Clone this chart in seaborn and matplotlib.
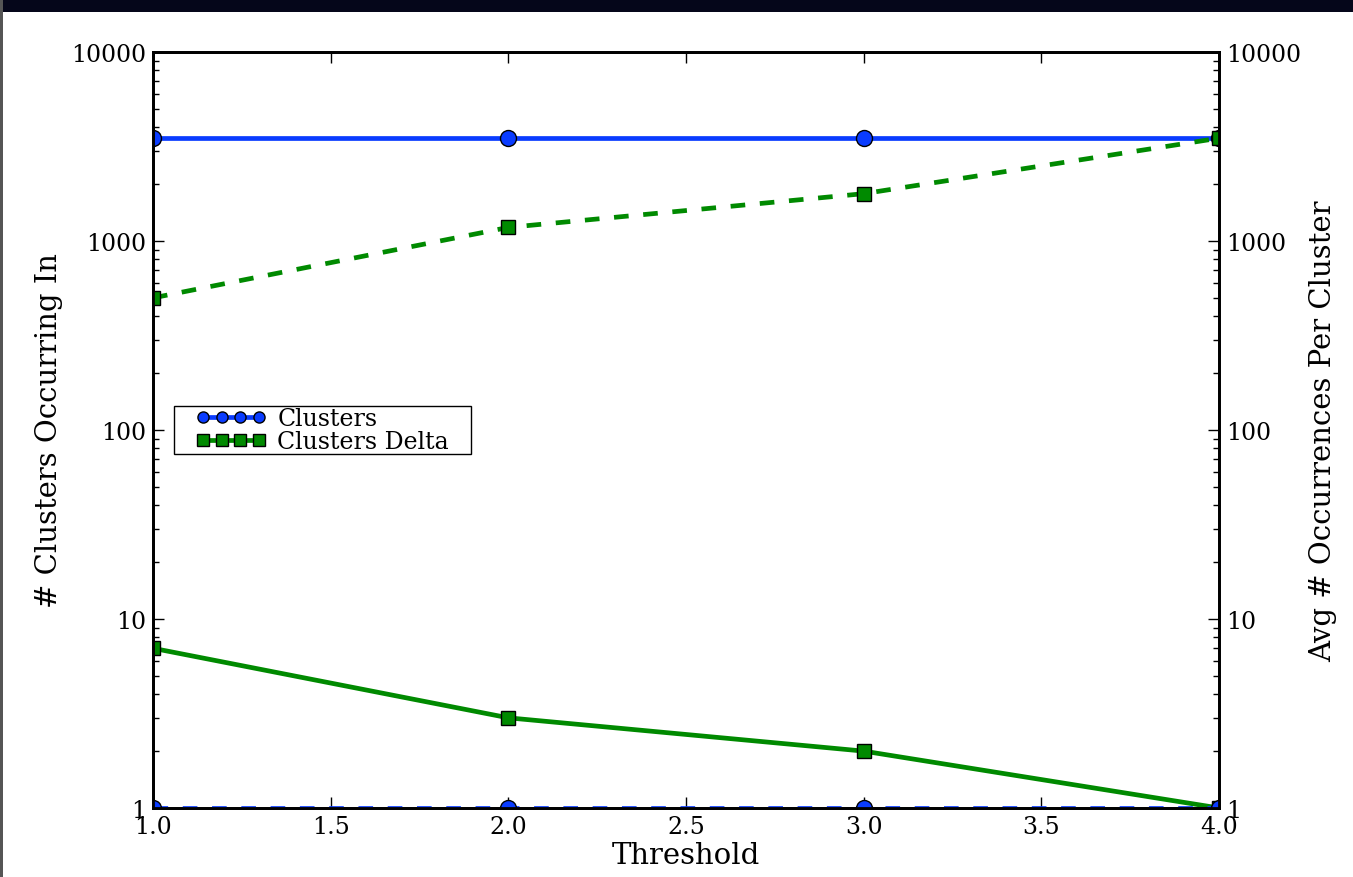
import matplotlib
matplotlib.use("Agg")
import matplotlib.pyplot as plt
from matplotlib.patches import Rectangle
from matplotlib.ticker import FixedLocator, FixedFormatter, LogLocator, NullFormatter
import seaborn as sns
import pandas as pd

# Data
thresholds = [1.0, 2.0, 3.0, 4.0]
clusters_count = [3500, 3500, 3500, 3500]
clusters_avg = [1, 1, 1, 1]
delta_count = [7, 3, 2, 1]
delta_avg = [500, 1180, 1780, 3500]

x_ticks = [1.0, 1.5, 2.0, 2.5, 3.0, 3.5, 4.0]
y_ticks = [1, 10, 100, 1000, 10000]
y_tick_labels = ["1", "10", "100", "1000", "10000"]

sns.set_style("white")
plt.rcParams["font.family"] = ["DejaVu Serif"]
plt.rcParams["text.color"] = "black"
plt.rcParams["axes.labelcolor"] = "black"
plt.rcParams["xtick.color"] = "black"
plt.rcParams["ytick.color"] = "black"

BLUE = "#0a3cff"
GREEN = "#008a00"

W, H = 1353, 878
fig = plt.figure(figsize=(W / 100, H / 100), dpi=100)
fig.patch.set_facecolor("white")

# dark strip along the top and thin frame on the left
fig.patches.append(Rectangle((0, 1 - 13 / H), 1, 13 / H, transform=fig.transFigure,
                             facecolor="#05061a", edgecolor="none", zorder=0))
fig.patches.append(Rectangle((0, 0), 2.5 / W, 1, transform=fig.transFigure,
                             facecolor="#555555", edgecolor="none", zorder=0))

ax = fig.add_axes([153 / W, 1 - 809 / H, (1219 - 153) / W, (809 - 53) / H])
ax2 = ax.twinx()

df = pd.DataFrame({"Threshold": thresholds, "clusters": clusters_count, "c_avg": clusters_avg,
                   "delta": delta_count, "d_avg": delta_avg})

common = dict(linewidth=3.4, markeredgecolor="black", markeredgewidth=1.0)

sns.lineplot(data=df, x="Threshold", y="clusters", ax=ax, color=BLUE, marker="o",
             markersize=11.5, label="Clusters", **common)
sns.lineplot(data=df, x="Threshold", y="delta", ax=ax, color=GREEN, marker="s",
             markersize=10.5, label="Clusters Delta", **common)
sns.lineplot(data=df, x="Threshold", y="c_avg", ax=ax2, color=BLUE, marker="o",
             markersize=11.5, linestyle="--", legend=False, **common)
sns.lineplot(data=df, x="Threshold", y="d_avg", ax=ax2, color=GREEN, marker="s",
             markersize=10.5, linestyle="--", legend=False, **common)
for ln in ax2.get_lines():
    ln.set_dashes((3.1, 3.1))

for a in (ax, ax2):
    a.set_yscale("log")
    a.set_ylim(1, 10000)
    a.set_xlim(1.0, 4.0)
    a.yaxis.set_major_locator(FixedLocator(y_ticks))
    a.yaxis.set_major_formatter(FixedFormatter(y_tick_labels))
    a.yaxis.set_minor_locator(LogLocator(base=10, subs=range(2, 10), numticks=20))
    a.yaxis.set_minor_formatter(NullFormatter())
    for s in a.spines.values():
        s.set_linewidth(2.0)
        s.set_color("black")

ax.set_xticks(x_ticks)
ax.set_xticklabels([f"{v:.1f}" for v in x_ticks])
ax.tick_params(axis="x", which="major", direction="in", length=8, width=1, top=True,
               bottom=True, labelsize=17, pad=5)
ax.tick_params(axis="y", which="major", direction="in", length=8, width=1, left=True,
               right=False, labelsize=17, pad=5)
ax.tick_params(axis="y", which="minor", direction="in", length=4, width=1, left=True, right=False)
ax2.tick_params(axis="y", which="major", direction="in", length=8, width=1, right=True,
                left=False, labelsize=17, pad=5)
ax2.tick_params(axis="y", which="minor", direction="in", length=4, width=1, right=True, left=False)

ax.set_xlabel("Threshold", fontsize=21, labelpad=2)
ax.set_ylabel("# Clusters Occurring In", fontsize=21, labelpad=6)
ax2.set_ylabel("Avg # Occurrences Per Cluster", fontsize=21, labelpad=6)

# legend content, with a box drawn around it afterwards (wide side padding)
ax_w = 1219 - 153
leg = ax.legend(loc="center left", bbox_to_anchor=((196 - 153) / ax_w, 0.5), borderaxespad=0.0,
                numpoints=4, handlelength=2.95, fontsize=17, frameon=False,
                labelspacing=0.0, borderpad=0.0, handletextpad=0.5)
for h in leg.get_lines():
    h.set_markersize(8)
    h.set_linewidth(3.4)

fig.canvas.draw()
bb = leg.get_window_extent()
pad_x, pad_y = 22, 1
fig.patches.append(Rectangle((bb.x0 - pad_x, bb.y0 - pad_y), bb.width + 2 * pad_x,
                             bb.height + 2 * pad_y, transform=None, facecolor="none",
                             edgecolor="black", linewidth=1.0, zorder=5))

fig.savefig("out.png", dpi=100)
